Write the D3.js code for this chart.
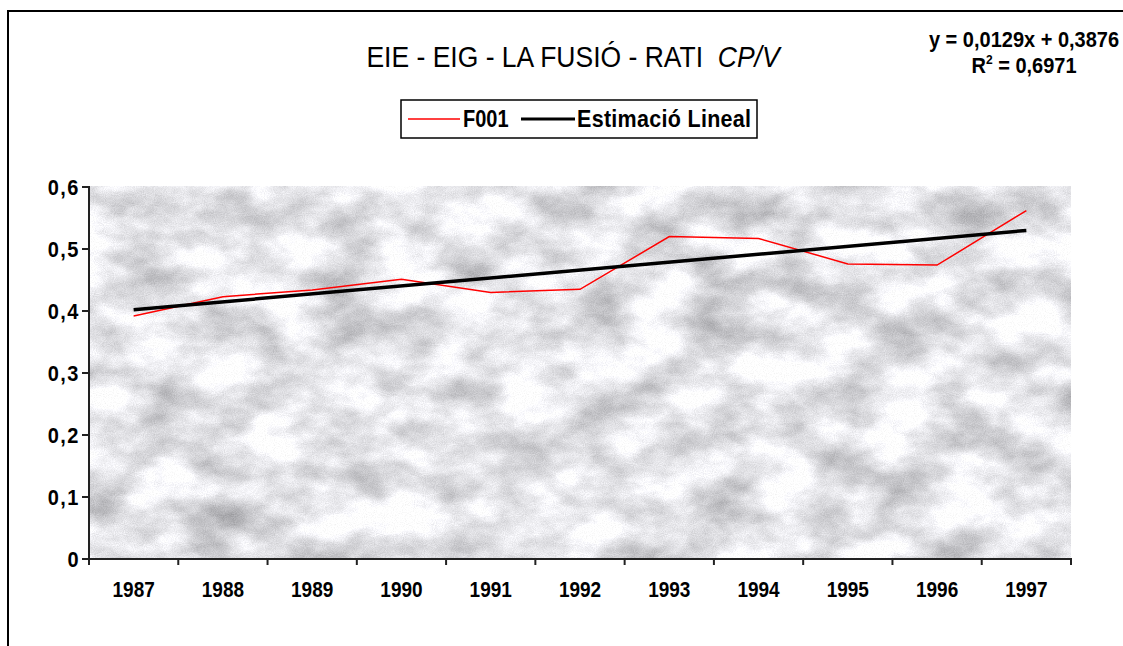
<!DOCTYPE html>
<html lang="ca">

<head>
  <meta charset="UTF-8">
  <title>EIE - EIG - LA FUSIÓ - RATI CP/V</title>
  <style>
    html, body {
      padding: 0;
      margin: 0;
      width: 100%;
      height: 100%;
      background: #fff;
    }
    text {
      font-family: 'Liberation Sans', Arial, sans-serif;
      fill: #000;
    }
    .lbl {
      font-weight: bold;
    }
    .axisLine {
      stroke: #222;
      stroke-width: 2;
    }
  </style>
  <script src="https://cdn.jsdelivr.net/npm/d3@7/dist/d3.min.js"></script>
</head>

<body>
</body>
<script>
  // ***************** data *****************
  const years = ['1987', '1988', '1989', '1990', '1991', '1992', '1993', '1994', '1995', '1996', '1997'];
  const f001 = [0.392, 0.423, 0.434, 0.451, 0.430, 0.435, 0.520, 0.517, 0.476, 0.474, 0.562];
  const trendYears = ['1987', '1997'];
  const trendValues = [0.402, 0.530];
  const yTicks = [0, 0.1, 0.2, 0.3, 0.4, 0.5, 0.6];
  const titleText = 'EIE - EIG - LA FUSIÓ - RATI  ';
  const titleItalic = 'CP/V';
  const legendNames = ['F001', 'Estimació Lineal'];
  const equation = 'y = 0,0129x + 0,3876';
  const r2Value = '0,6971';

  const width = 1123;
  const height = 646;
  const plotLeft = 89;
  const plotRight = 1071;
  const plotTop = 187;
  const plotBottom = 559;

  const svg = d3.select('body').append('svg')
    .attr('width', width)
    .attr('height', height);

  // ***************** scales *****************
  const xScale = d3.scaleBand()
    .domain(years)
    .range([plotLeft, plotRight]);
  const xMid = (d) => xScale(d) + xScale.bandwidth() / 2;
  const yScale = d3.scaleLinear()
    .domain([0, 0.6])
    .range([plotBottom, plotTop]);
  const fmt = d3.formatLocale({ decimal: ',', thousands: '.', grouping: [3], currency: ['', '€'] }).format('.1~f');

  // text with a little vertical stretch, like the bitmap fonts of the original
  function label(g, x, y, str, size, anchor, sy) {
    return g.append('text')
      .attr('class', 'lbl')
      .attr('transform', `translate(${x},${y}) scale(1,${sy})`)
      .attr('text-anchor', anchor)
      .style('font-size', size + 'px')
      .text(str);
  }

  // ***************** marble background *****************
  const defs = svg.append('defs');
  const filter = defs.append('filter')
    .attr('id', 'marble')
    .attr('x', 0).attr('y', 0).attr('width', 1).attr('height', 1)
    .attr('color-interpolation-filters', 'sRGB');
  filter.append('feTurbulence')
    .attr('type', 'fractalNoise')
    .attr('baseFrequency', '0.016 0.026')
    .attr('numOctaves', 5)
    .attr('seed', 7)
    .attr('result', 'veins');
  filter.append('feColorMatrix')
    .attr('in', 'veins')
    .attr('type', 'matrix')
    .attr('values', '-0.6 0 0 0 1.2  -0.6 0 0 0 1.2  -0.6 0 0 0 1.215  0 0 0 0 1')
    .attr('result', 'base');
  filter.append('feTurbulence')
    .attr('type', 'fractalNoise')
    .attr('baseFrequency', 0.9)
    .attr('numOctaves', 1)
    .attr('seed', 2)
    .attr('result', 'grain');
  filter.append('feColorMatrix')
    .attr('in', 'grain')
    .attr('type', 'matrix')
    .attr('values', '1 0 0 0 0  1 0 0 0 0  1 0 0 0 0  0 0 0 0 1')
    .attr('result', 'grainGray');
  filter.append('feComposite')
    .attr('in', 'base')
    .attr('in2', 'grainGray')
    .attr('operator', 'arithmetic')
    .attr('k2', 1).attr('k3', 0.18).attr('k4', -0.09);

  svg.append('rect')
    .attr('x', plotLeft)
    .attr('y', plotTop - 1)
    .attr('width', plotRight - plotLeft)
    .attr('height', plotBottom - plotTop + 1)
    .attr('fill', '#ddd')
    .attr('filter', 'url(#marble)');

  // ***************** outer frame *****************
  svg.append('path')
    .attr('d', `M8,${height}V11H${width}`)
    .attr('fill', 'none')
    .attr('stroke', '#000')
    .attr('stroke-width', 2);

  // ***************** title *****************
  const title = svg.append('text')
    .attr('transform', 'translate(573,67) scale(1,1.08)')
    .attr('text-anchor', 'middle')
    .style('font-size', '26.5px')
    .attr('xml:space', 'preserve');
  title.append('tspan').text(titleText);
  title.append('tspan').style('font-style', 'italic').text(titleItalic);

  // ***************** equation *****************
  const eq = svg.append('g');
  label(eq, 1024, 47, equation, 20, 'middle', 1.1);
  const r2 = label(eq, 1024, 73, 'R', 20, 'middle', 1.1);
  r2.append('tspan').attr('dy', -8).style('font-size', '12px').text('2');
  r2.append('tspan').attr('dy', 8).text(' = ' + r2Value);

  // ***************** legend *****************
  const legend = svg.append('g');
  legend.append('rect')
    .attr('x', 401)
    .attr('y', 100)
    .attr('width', 356)
    .attr('height', 38)
    .attr('fill', '#fff')
    .attr('stroke', '#000')
    .attr('stroke-width', 1.5);
  legend.append('line')
    .attr('x1', 408).attr('x2', 460)
    .attr('y1', 119).attr('y2', 119)
    .attr('stroke', '#ff0000')
    .attr('stroke-width', 1.5);
  label(legend, 463, 127, legendNames[0], 20, 'start', 1.18);
  legend.append('line')
    .attr('x1', 521).attr('x2', 575)
    .attr('y1', 119).attr('y2', 119)
    .attr('stroke', '#000')
    .attr('stroke-width', 3);
  label(legend, 577, 127, legendNames[1], 21.5, 'start', 1.12)
    .style('letter-spacing', '0.3px');

  // ***************** axes *****************
  const yAxis = svg.append('g');
  yAxis.append('line')
    .attr('class', 'axisLine')
    .attr('x1', plotLeft).attr('x2', plotLeft)
    .attr('y1', yScale(0.6) - 1).attr('y2', plotBottom + 6);
  yAxis.selectAll('.ytick')
    .data(yTicks)
    .enter()
    .append('line')
    .attr('class', 'axisLine')
    .attr('x1', plotLeft - 7).attr('x2', plotLeft)
    .attr('y1', (d) => yScale(d)).attr('y2', (d) => yScale(d));
  yTicks.forEach((d) => label(yAxis, 80, yScale(d) + 7.5, fmt(d), 20, 'end', 1.1)
    .style('letter-spacing', '1.5px'));

  const xAxis = svg.append('g');
  xAxis.append('line')
    .attr('class', 'axisLine')
    .attr('x1', plotLeft).attr('x2', plotRight + 1)
    .attr('y1', plotBottom).attr('y2', plotBottom);
  const edges = years.map((d) => xScale(d)).concat([plotRight]);
  xAxis.selectAll('.xtick')
    .data(edges)
    .enter()
    .append('line')
    .attr('class', 'axisLine')
    .attr('x1', (d) => d).attr('x2', (d) => d)
    .attr('y1', plotBottom).attr('y2', plotBottom + 6);
  years.forEach((d) => label(xAxis, xMid(d), 597, d, 19, 'middle', 1.12));

  // ***************** lines *****************
  const line = d3.line()
    .x((d) => xMid(d[0]))
    .y((d) => yScale(d[1]));

  svg.append('path')
    .datum(years.map((d, i) => [d, f001[i]]))
    .attr('d', line)
    .attr('fill', 'none')
    .attr('stroke', '#ff0000')
    .attr('stroke-width', 1.5);

  svg.append('path')
    .datum(trendYears.map((d, i) => [d, trendValues[i]]))
    .attr('d', line)
    .attr('fill', 'none')
    .attr('stroke', '#000')
    .attr('stroke-width', 3.5);
</script>

</html>
